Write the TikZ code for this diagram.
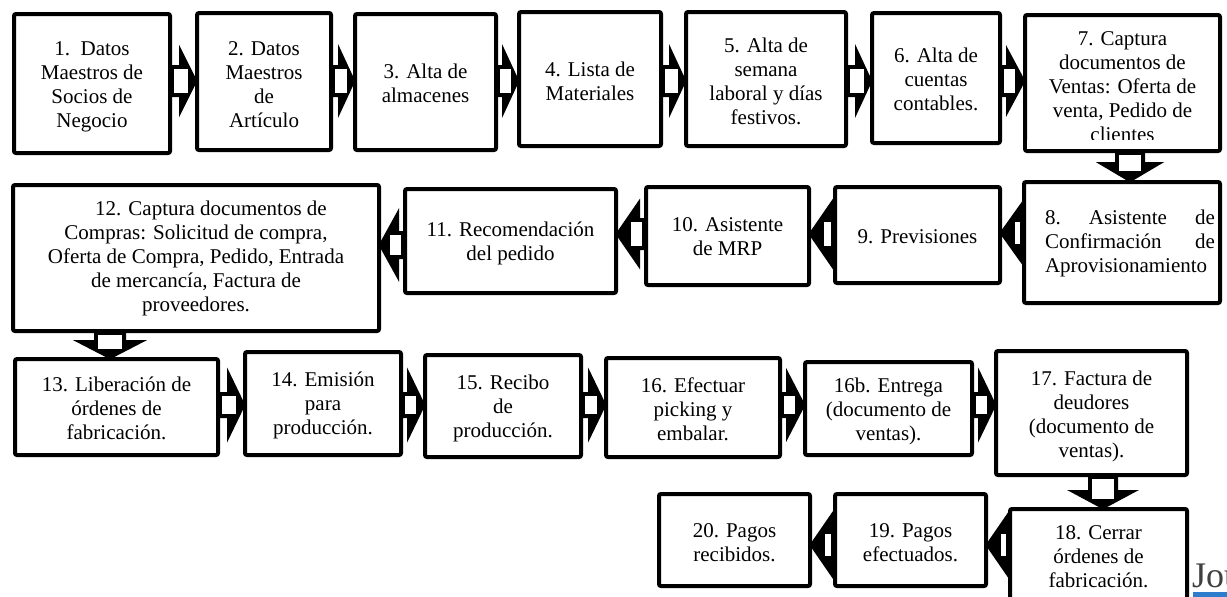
\documentclass[tikz,border=0pt]{standalone}
\usepackage{fontspec}
\setmainfont{Liberation Serif}
\usetikzlibrary{calc}
\pgfdeclarelayer{bg}
\pgfdeclarelayer{paper}
\pgfsetlayers{paper,bg,main}
\definecolor{jblue}{RGB}{46,125,205}
\tikzset{
  box/.style={draw, line width=4pt, fill=white, rounded corners=2pt, inner sep=0pt},
  lbl/.style={align=center, font=\fontsize{21}{24}\selectfont, inner sep=0pt},
  blockarrow/.style={draw, fill=white, line width=4pt, line join=miter, miter limit=10},
  headfill/.style={fill=black},
  shaftfill/.style={fill=white},
}
% right-pointing block arrow: src, tgt, y centre, shaft half, head half, head length
\newcommand\arrR[6]{%
  \path[blockarrow] let \p1=(#1.east), \p2=(#2.west), \p3=(0,#3) in
    (\x1,\y3+#4pt) -- (\x2-#6pt,\y3+#4pt) -- (\x2-#6pt,\y3+#5pt) -- (\x2,\y3)
    -- (\x2-#6pt,\y3-#5pt) -- (\x2-#6pt,\y3-#4pt) -- (\x1,\y3-#4pt) -- cycle;
  \path[headfill] let \p2=(#2.west), \p3=(0,#3) in
    (\x2-#6pt,\y3+#5pt) -- (\x2,\y3) -- (\x2-#6pt,\y3-#5pt) -- cycle;
  \path[shaftfill] let \p1=(#1.east), \p2=(#2.west), \p3=(0,#3) in
    (\x1+2pt,\y3+#4pt-2pt) rectangle (\x2-#6pt+7pt,\y3-#4pt+2pt);}
% left-pointing block arrow
\newcommand\arrL[6]{%
  \path[blockarrow] let \p1=(#1.west), \p2=(#2.east), \p3=(0,#3) in
    (\x1,\y3+#4pt) -- (\x2+#6pt,\y3+#4pt) -- (\x2+#6pt,\y3+#5pt) -- (\x2,\y3)
    -- (\x2+#6pt,\y3-#5pt) -- (\x2+#6pt,\y3-#4pt) -- (\x1,\y3-#4pt) -- cycle;
  \path[headfill] let \p2=(#2.east), \p3=(0,#3) in
    (\x2+#6pt,\y3+#5pt) -- (\x2,\y3) -- (\x2+#6pt,\y3-#5pt) -- cycle;
  \path[shaftfill] let \p1=(#1.west), \p2=(#2.east), \p3=(0,#3) in
    (\x1-2pt,\y3+#4pt-2pt) rectangle (\x2+#6pt-7pt,\y3-#4pt+2pt);}
% down-pointing block arrow: src, tgt, x centre, shaft half, head half, head length
\newcommand\arrD[6]{%
  \path[blockarrow] let \p1=(#1.south), \p2=(#2.north), \p3=(#3,0) in
    (\x3+#4pt,\y1) -- (\x3+#4pt,\y2+#6pt) -- (\x3+#5pt,\y2+#6pt) -- (\x3,\y2)
    -- (\x3-#5pt,\y2+#6pt) -- (\x3-#4pt,\y2+#6pt) -- (\x3-#4pt,\y1) -- cycle;
  \path[headfill] let \p2=(#2.north), \p3=(#3,0) in
    (\x3+#5pt,\y2+#6pt) -- (\x3,\y2) -- (\x3-#5pt,\y2+#6pt) -- cycle;
  \path[shaftfill] let \p1=(#1.south), \p2=(#2.north), \p3=(#3,0) in
    (\x3+#4pt-2pt,\y1-2pt) rectangle (\x3-#4pt+2pt,\y2+#6pt-7pt);}
\begin{document}
\begin{tikzpicture}[x=1pt,y=-1pt]
\useasboundingbox (0,0) rectangle (1227,597);
\clip (0,0) rectangle (1227,597);
\begin{pgfonlayer}{paper}
\fill[white] (0,0) rectangle (1227,597);
\end{pgfonlayer}
% boxes
\node[box, minimum width=156pt, minimum height=139pt] (b1) at (92,83.5) {};
\node[box, minimum width=134pt, minimum height=137pt] (b2) at (264,81.5) {};
\node[box, minimum width=141pt, minimum height=136pt] (b3) at (425.5,82) {};
\node[box, minimum width=142pt, minimum height=134pt] (b4) at (590,79) {};
\node[box, minimum width=160pt, minimum height=134pt] (b5) at (766,79) {};
\node[box, minimum width=128pt, minimum height=130pt] (b6) at (936,78) {};
\node[box, minimum width=195pt, minimum height=136pt] (b7) at (1122.5,83) {};
\node[box, minimum width=196pt, minimum height=121pt] (b8) at (1122,242.5) {};
\node[box, minimum width=165pt, minimum height=96pt] (b9) at (917.5,235) {};
\node[box, minimum width=163pt, minimum height=98pt] (b10) at (727.5,236) {};
\node[box, minimum width=211pt, minimum height=104pt] (b11) at (510.5,241) {};
\node[box, minimum width=366pt, minimum height=146pt] (b12) at (196,258) {};
\node[box, minimum width=203pt, minimum height=96pt] (b13) at (116.5,407) {};
\node[box, minimum width=156pt, minimum height=103pt] (b14) at (323,403.5) {};
\node[box, minimum width=156pt, minimum height=102pt] (b15) at (503,406) {};
\node[box, minimum width=174pt, minimum height=99pt] (b16) at (693,407.5) {};
\node[box, minimum width=167pt, minimum height=93pt] (b16b) at (888.5,408.5) {};
\node[box, minimum width=191pt, minimum height=124pt] (b17) at (1091.5,413) {};
\node[box, minimum width=177pt, minimum height=98pt] (b18) at (1098.5,558) {};
\node[box, minimum width=151pt, minimum height=92pt] (b19) at (910.5,540) {};
\node[box, minimum width=151pt, minimum height=92pt] (b20) at (734.5,540) {};
% texts
\node[lbl] (t1) at (92,87) {1.\ \ Datos\\Maestros de\\Socios de\\Negocio};
\node[lbl] (t2) at (264,85) {2. Datos\\Maestros\\de\\Artículo};
\node[lbl] (t3) at (425.5,83) {3. Alta de\\almacenes};
\node[lbl] (t4) at (590,81.5) {4. Lista de\\Materiales};
\node[lbl] (t5) at (766,81) {5. Alta de\\semana\\laboral y días\\festivos.};
\node[lbl] (t6) at (936,79) {6. Alta de\\cuentas\\contables.};
\node[lbl] (t7) at (1122.5,87) {7. Captura\\documentos de\\Ventas: Oferta de\\venta, Pedido de\\clientes};
\fill[white] (1027,139.5) rectangle (1218,149);
\node[lbl, align=left, text width=170pt] (t8) at (1130,243) {8.\hfill Asistente\hfill de\\Confirmación\hfill de\\Aprovisionamiento};
\node[lbl] (t9) at (917.5,237) {9. Previsiones};
\node[lbl] (t10) at (727.5,236.5) {10. Asistente\\de MRP};
\node[lbl] (t11) at (510.5,243) {11. Recomendación\\del pedido};
\node[lbl] (t12) at (196,258) {\hspace*{30pt}12. Captura documentos de\\Compras: Solicitud de compra,\\Oferta de Compra, Pedido, Entrada\\de mercancía, Factura de\\proveedores.};
\node[lbl] (t13) at (116.5,408) {13. Liberación de\\órdenes de\\fabricación.};
\node[lbl] (t14) at (323,405) {14. Emisión\\para\\producción.};
\node[lbl] (t15) at (503,408) {15. Recibo\\de\\producción.};
\node[lbl] (t16) at (693,409) {16. Efectuar\\picking y\\embalar.};
\node[lbl] (t16b) at (888.5,411) {16b. Entrega\\(documento de\\ventas).};
\node[lbl] (t17) at (1091.5,416) {17. Factura de\\deudores\\(documento de\\ventas).};
\node[lbl] (t18) at (1098.5,557) {18. Cerrar\\órdenes de\\fabricación.};
\node[lbl] (t19) at (910.5,543) {19. Pagos\\efectuados.};
\node[lbl] (t20) at (734.5,543) {20. Pagos\\recibidos.};
% journal fragment
\node[anchor=base west, font=\fontsize{36}{36}\selectfont, text=black!75, inner sep=0pt] (jou) at (1192,587) {Jou};
\fill[jblue] (1193,592) rectangle (1227,597);
% arrows
\begin{pgfonlayer}{bg}
\arrR{b1}{b2}{81}{14}{28}{14}
\arrR{b2}{b3}{81}{14}{28}{13}
\arrR{b3}{b4}{81}{14}{28}{13}
\arrR{b4}{b5}{81}{14}{28}{13}
\arrR{b5}{b6}{81}{14}{28}{13}
\arrR{b6}{b7}{81}{14}{28}{15}
\arrD{b7}{b8}{1130}{13}{27}{16}
\arrL{b8}{b9}{233}{13}{28}{20}
\arrL{b9}{b10}{234}{14}{29}{20}
\arrL{b10}{b11}{234}{14}{29}{20}
\arrL{b11}{b12}{245}{12}{29}{16}
\arrD{b12}{b13}{110}{14}{29}{15}
\arrR{b13}{b14}{405}{11}{29}{14}
\arrR{b14}{b15}{405}{11}{29}{14}
\arrR{b15}{b16}{405}{11}{29}{14}
\arrR{b16}{b16b}{405}{11}{29}{15}
\arrR{b16b}{b17}{405}{11}{29}{14}
\arrD{b17}{b18}{1103}{13}{28}{15}
\arrL{b18}{b19}{545}{13}{29}{20}
\arrL{b19}{b20}{545}{13}{29}{20}
\end{pgfonlayer}
\end{tikzpicture}
\end{document}
